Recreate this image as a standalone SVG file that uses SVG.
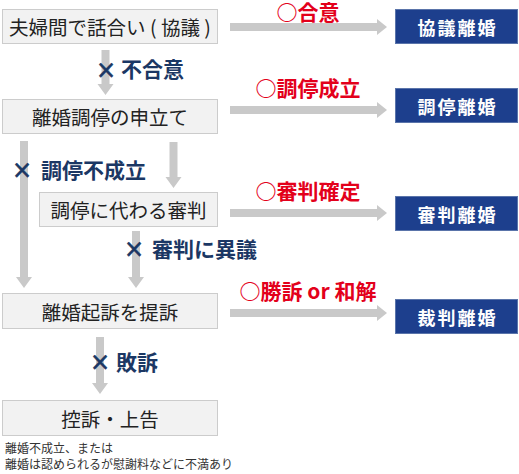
<svg xmlns="http://www.w3.org/2000/svg" width="519" height="474" viewBox="0 0 519 474">
<style>
.box{fill:#f2f2f2;stroke:#cccccc;stroke-width:1}
.bt{font-family:"Noto Sans CJK JP","Noto Sans",sans-serif;font-size:19.5px;fill:#222;text-anchor:middle;dominant-baseline:central}
.res{fill:#1d3f8d;stroke:#5a74aa;stroke-width:1}
.rt{font-family:"Noto Sans CJK JP","Noto Sans",sans-serif;font-size:18px;font-weight:bold;fill:#fff;text-anchor:middle;dominant-baseline:central;letter-spacing:2px}
.ok{font-family:"Noto Sans CJK JP","Noto Sans",sans-serif;font-size:21px;font-weight:bold;fill:#e3001b;text-anchor:middle}
.ng{font-family:"Noto Sans CJK JP","Noto Sans",sans-serif;font-size:21px;font-weight:bold;fill:#1b3764}
.x{font-family:"DejaVu Sans",sans-serif;font-size:24px;fill:#1b3764;text-anchor:middle;stroke:#1b3764;stroke-width:0.6px}
.arr{fill:#c9c9c9}
.note{font-family:"Noto Sans CJK JP","Noto Sans",sans-serif;font-size:12px;fill:#333}
</style>
<g id="connectors">
  <polygon class="arr" points="230,23 377,23 377,19 387,27 377,35 377,31 230,31"/>
  <polygon class="arr" points="230,106 377,106 377,102 387,110 377,118 377,114 230,114"/>
  <polygon class="arr" points="230,209 377,209 377,205 387,213 377,221 377,217 230,217"/>
  <polygon class="arr" points="230,309 377,309 377,305 387,313 377,321 377,317 230,317"/>
  <polygon class="arr" points="101.5,50 109.5,50 109.5,84 113.5,84 105.5,95 97.5,84 101.5,84"/>
  <polygon class="arr" points="20,141 28,141 28,277 32,277 24,288 16,277 20,277"/>
  <polygon class="arr" points="169.5,142 177.5,142 177.5,177 181.5,177 173.5,188 165.5,177 169.5,177"/>
  <polygon class="arr" points="132,231 140,231 140,277 144,277 136,288 128,277 132,277"/>
  <polygon class="arr" points="96,337 104,337 104,383 108,383 100,394 92,383 96,383"/>
</g>
<g id="labels">
  <text class="ok" x="308" y="20">○合意</text>
  <text class="ok" x="308" y="96">○調停成立</text>
  <text class="ok" x="308" y="199">○審判確定</text>
  <text class="ok" x="308" y="299">○勝訴 or 和解</text>
  <text class="x" x="106" y="78">×</text>
  <text class="ng" x="121" y="77">不合意</text>
  <text class="x" x="22" y="178">×</text>
  <text class="ng" x="41" y="178">調停不成立</text>
  <text class="x" x="134" y="257">×</text>
  <text class="ng" x="152" y="257">審判に異議</text>
  <text class="x" x="100" y="370">×</text>
  <text class="ng" x="116" y="370">敗訴</text>
</g>
<g id="n1"><rect class="box" x="2.5" y="9.5" width="215" height="34"/><text class="bt" x="110" y="26.5">夫婦間で話合い ( 協議 )</text></g>
<g id="n2"><rect class="box" x="2.5" y="99.5" width="215" height="34"/><text class="bt" x="110" y="116.5">離婚調停の申立て</text></g>
<g id="n3"><rect class="box" x="39.5" y="192.5" width="178" height="34"/><text class="bt" x="128.5" y="209.5">調停に代わる審判</text></g>
<g id="n4"><rect class="box" x="2.5" y="293.5" width="215" height="35"/><text class="bt" x="110" y="311">離婚起訴を提訴</text></g>
<g id="n5"><rect class="box" x="2.5" y="400.5" width="215" height="35"/><text class="bt" x="110" y="418">控訴・上告</text></g>
<g id="r1"><rect class="res" x="395.5" y="9.5" width="122" height="34"/><text class="rt" x="457.5" y="26.5">協議離婚</text></g>
<g id="r2"><rect class="res" x="395.5" y="88.5" width="122" height="34"/><text class="rt" x="457.5" y="105.5">調停離婚</text></g>
<g id="r3"><rect class="res" x="395.5" y="196.5" width="122" height="34"/><text class="rt" x="457.5" y="213.5">審判離婚</text></g>
<g id="r4"><rect class="res" x="395.5" y="299.5" width="122" height="34"/><text class="rt" x="457.5" y="316.5">裁判離婚</text></g>
<g id="note">
  <text class="note" x="5" y="453">離婚不成立、または</text>
  <text class="note" x="5" y="469">離婚は認められるが慰謝料などに不満あり</text>
</g>
</svg>
